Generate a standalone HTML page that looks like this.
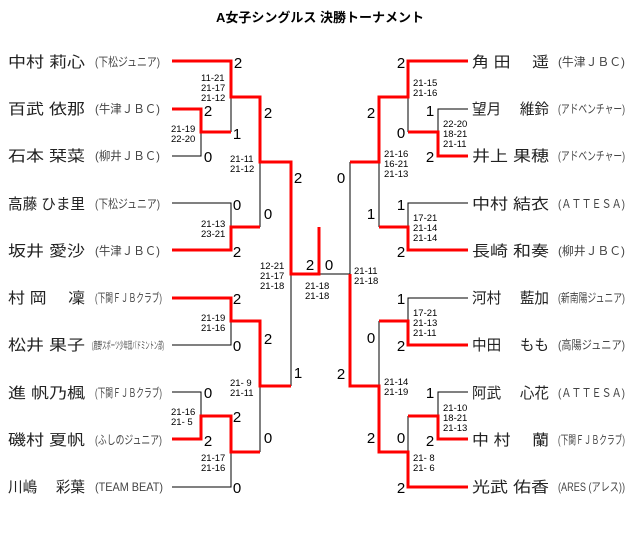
<!DOCTYPE html>
<html><head><meta charset="utf-8"><style>
html,body{margin:0;padding:0;background:#fff;width:640px;height:533px;overflow:hidden}
svg{display:block}
.n{font-family:"Liberation Sans","Noto Sans CJK JP",sans-serif;font-size:15px;fill:#222}
.c{font-family:"Liberation Sans","Noto Sans CJK JP",sans-serif;font-size:12px;fill:#444}
.s{font-family:"Liberation Sans",sans-serif;font-size:15px;fill:#000;text-anchor:middle}
.m{font-family:"Liberation Sans",sans-serif;font-size:9.5px;fill:#000}
.k{stroke:#000;stroke-width:1;fill:none}
.r{stroke:#f00;stroke-width:3;fill:none}
</style></head><body>
<svg width="640" height="533" viewBox="0 0 640 533">
<text x="320" y="22" text-anchor="middle" font-family="Liberation Sans,Noto Sans CJK JP,sans-serif" font-size="13" font-weight="bold">A女子シングルス 決勝トーナメント</text>

<!-- left names -->
<g class="n">
<text x="8" y="67" textLength="77" lengthAdjust="spacingAndGlyphs">中村 莉心</text>
<text x="8" y="114" textLength="77" lengthAdjust="spacingAndGlyphs">百武 依那</text>
<text x="8" y="161" textLength="77" lengthAdjust="spacingAndGlyphs">石本 栞菜</text>
<text x="8" y="209" textLength="77" lengthAdjust="spacingAndGlyphs">高藤 ひま里</text>
<text x="8" y="256" textLength="77" lengthAdjust="spacingAndGlyphs">坂井 愛沙</text>
<text x="8" y="303" textLength="77" lengthAdjust="spacingAndGlyphs">村 岡 　凜</text>
<text x="8" y="350" textLength="77" lengthAdjust="spacingAndGlyphs">松井 果子</text>
<text x="8" y="398" textLength="77" lengthAdjust="spacingAndGlyphs">進 帆乃楓</text>
<text x="8" y="445" textLength="77" lengthAdjust="spacingAndGlyphs">磯村 夏帆</text>
<text x="8" y="492" textLength="77" lengthAdjust="spacingAndGlyphs">川嶋 　彩葉</text>
</g>
<g class="c">
<text x="95" y="66" textLength="65" lengthAdjust="spacingAndGlyphs">(下松ジュニア)</text>
<text x="95" y="113" textLength="65" lengthAdjust="spacingAndGlyphs">(牛津ＪＢＣ)</text>
<text x="95" y="160" textLength="65" lengthAdjust="spacingAndGlyphs">(柳井ＪＢＣ)</text>
<text x="95" y="208" textLength="65" lengthAdjust="spacingAndGlyphs">(下松ジュニア)</text>
<text x="95" y="255" textLength="65" lengthAdjust="spacingAndGlyphs">(牛津ＪＢＣ)</text>
<text x="95" y="302" textLength="67" lengthAdjust="spacingAndGlyphs">(下関ＦＪＢクラブ)</text>
<text x="92" y="349" textLength="72" lengthAdjust="spacingAndGlyphs" font-size="10">(鹿野スポーツ少年団バドミントン部)</text>
<text x="95" y="397" textLength="67" lengthAdjust="spacingAndGlyphs">(下関ＦＪＢクラブ)</text>
<text x="95" y="444" textLength="67" lengthAdjust="spacingAndGlyphs">(ふしのジュニア)</text>
<text x="95" y="491" textLength="68" lengthAdjust="spacingAndGlyphs">(TEAM BEAT)</text>
</g>

<!-- right names -->
<g class="n">
<text x="472" y="67" textLength="77" lengthAdjust="spacingAndGlyphs">角 田 　遥</text>
<text x="472" y="114" textLength="77" lengthAdjust="spacingAndGlyphs">望月 　維鈴</text>
<text x="472" y="161" textLength="77" lengthAdjust="spacingAndGlyphs">井上 果穂</text>
<text x="472" y="209" textLength="77" lengthAdjust="spacingAndGlyphs">中村 結衣</text>
<text x="472" y="256" textLength="77" lengthAdjust="spacingAndGlyphs">長崎 和奏</text>
<text x="472" y="303" textLength="77" lengthAdjust="spacingAndGlyphs">河村 　藍加</text>
<text x="472" y="350" textLength="77" lengthAdjust="spacingAndGlyphs">中田 　もも</text>
<text x="472" y="398" textLength="77" lengthAdjust="spacingAndGlyphs">阿武 　心花</text>
<text x="472" y="445" textLength="77" lengthAdjust="spacingAndGlyphs">中 村 　蘭</text>
<text x="472" y="492" textLength="77" lengthAdjust="spacingAndGlyphs">光武 佑香</text>
</g>
<g class="c">
<text x="558" y="66" textLength="67" lengthAdjust="spacingAndGlyphs">(牛津ＪＢＣ)</text>
<text x="558" y="113" textLength="67" lengthAdjust="spacingAndGlyphs">(アドベンチャー)</text>
<text x="558" y="160" textLength="67" lengthAdjust="spacingAndGlyphs">(アドベンチャー)</text>
<text x="558" y="208" textLength="67" lengthAdjust="spacingAndGlyphs">(ＡＴＴＥＳＡ)</text>
<text x="558" y="255" textLength="67" lengthAdjust="spacingAndGlyphs">(柳井ＪＢＣ)</text>
<text x="558" y="302" textLength="67" lengthAdjust="spacingAndGlyphs">(新南陽ジュニア)</text>
<text x="558" y="349" textLength="67" lengthAdjust="spacingAndGlyphs">(高陽ジュニア)</text>
<text x="558" y="397" textLength="67" lengthAdjust="spacingAndGlyphs">(ＡＴＴＥＳＡ)</text>
<text x="558" y="444" textLength="67" lengthAdjust="spacingAndGlyphs">(下関ＦＪＢクラブ)</text>
<text x="558" y="491" textLength="67" lengthAdjust="spacingAndGlyphs">(ARES (アレス))</text>
</g>

<!-- left black -->
<path class="k" d="M231 97V132 M172 156H201V132 M172 203H231V227 M260 162V227 M172 345H231V321 M172 392H201V416 M172 487H231V452 M260 386V452 M291 274V386 M319 274H350V162"/>
<!-- left red -->
<path class="r" d="M172 61H231V97H260V162H291V274H319V227 M172 109H201V132H231 M172 250H231V227H260 M172 298H231V321H260V386H291 M172 439H201V416H231V452H260"/>
<!-- right black -->
<path class="k" d="M408 97V132 M468 109H438V132 M379 162V227 M468 203H408V227 M468 298H408V321 M379 321V386 M468 392H438V416 M408 416V452"/>
<!-- right red -->
<path class="r" d="M468 61H408V97H379V162H350 M468 156H438V132H408 M468 250H408V227H379 M350 274V386H379V452H408V487H468 M379 321H408V345H468 M408 416H438V439H468"/>

<!-- scores -->
<g class="s">
<text x="238" y="68">2</text>
<text x="208" y="116">2</text>
<text x="237" y="139">1</text>
<text x="208" y="162">0</text>
<text x="268" y="118">2</text>
<text x="237" y="210">0</text>
<text x="268" y="219">0</text>
<text x="237" y="257">2</text>
<text x="298" y="183">2</text>
<text x="310" y="270">2</text>
<text x="329" y="270">0</text>
<text x="237" y="304">2</text>
<text x="237" y="351">0</text>
<text x="268" y="344">2</text>
<text x="298" y="378">1</text>
<text x="208" y="398">0</text>
<text x="237" y="422">2</text>
<text x="208" y="446">2</text>
<text x="268" y="443">0</text>
<text x="237" y="493">0</text>

<text x="401" y="68">2</text>
<text x="371" y="118">2</text>
<text x="430" y="116">1</text>
<text x="401" y="138">0</text>
<text x="430" y="162">2</text>
<text x="341" y="183">0</text>
<text x="401" y="210">1</text>
<text x="371" y="219">1</text>
<text x="401" y="257">2</text>
<text x="401" y="304">1</text>
<text x="371" y="343">0</text>
<text x="401" y="351">2</text>
<text x="341" y="379">2</text>
<text x="430" y="398">1</text>
<text x="401" y="443">0</text>
<text x="371" y="443">2</text>
<text x="430" y="446">2</text>
<text x="401" y="493">2</text>
</g>

<!-- match scores -->
<g class="m">
<text x="201" y="81">11-21</text><text x="201" y="91">21-17</text><text x="201" y="101">21-12</text>
<text x="171" y="132">21-19</text><text x="171" y="142">22-20</text>
<text x="230" y="162">21-11</text><text x="230" y="172">21-12</text>
<text x="201" y="227">21-13</text><text x="201" y="237">23-21</text>
<text x="260" y="269">12-21</text><text x="260" y="279">21-17</text><text x="260" y="289">21-18</text>
<text x="305" y="289">21-18</text><text x="305" y="299">21-18</text>
<text x="354" y="274">21-11</text><text x="354" y="284">21-18</text>
<text x="201" y="321">21-19</text><text x="201" y="331">21-16</text>
<text x="230" y="386">21- 9</text><text x="230" y="396">21-11</text>
<text x="171" y="415">21-16</text><text x="171" y="425">21- 5</text>
<text x="201" y="461">21-17</text><text x="201" y="471">21-16</text>

<text x="413" y="86">21-15</text><text x="413" y="96">21-16</text>
<text x="443" y="127">22-20</text><text x="443" y="137">18-21</text><text x="443" y="147">21-11</text>
<text x="384" y="157">21-16</text><text x="384" y="167">16-21</text><text x="384" y="177">21-13</text>
<text x="413" y="221">17-21</text><text x="413" y="231">21-14</text><text x="413" y="241">21-14</text>
<text x="413" y="316">17-21</text><text x="413" y="326">21-13</text><text x="413" y="336">21-11</text>
<text x="384" y="385">21-14</text><text x="384" y="395">21-19</text>
<text x="443" y="411">21-10</text><text x="443" y="421">18-21</text><text x="443" y="431">21-13</text>
<text x="413" y="461">21- 8</text><text x="413" y="471">21- 6</text>
</g>
</svg>
</body></html>
